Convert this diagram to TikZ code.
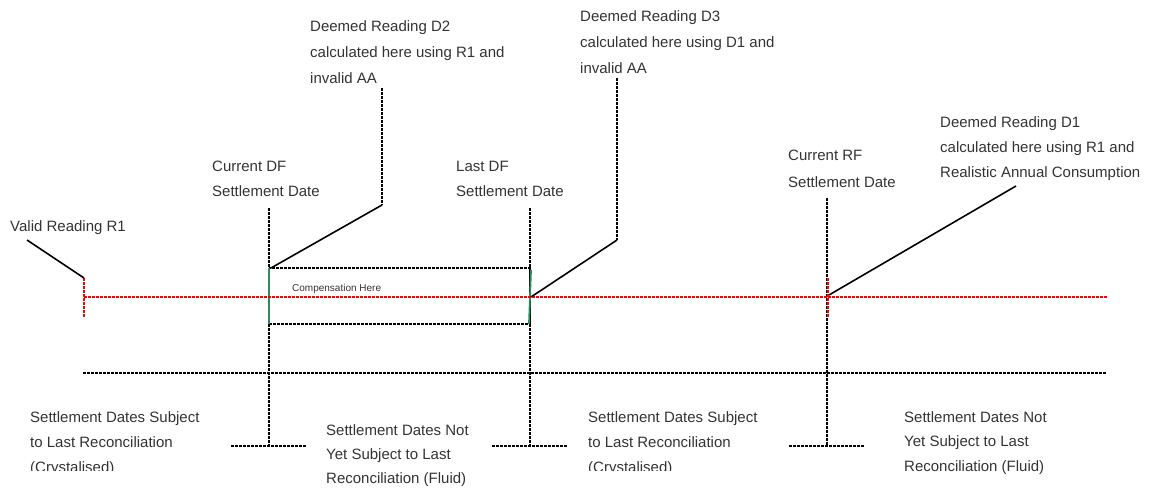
\documentclass[tikz,border=0pt]{standalone}
\usepackage{fontspec}
\setmainfont{Liberation Sans}
\definecolor{txt}{rgb}{0.2,0.2,0.2}
\definecolor{grn}{rgb}{0.18,0.55,0.36}
\tikzset{
  lbl/.style={anchor=north west, inner sep=0pt, align=left, text=txt, font=\fontsize{15}{#1}\selectfont},
  lbl/.default=25,
  dline/.style={line width=2pt, dash pattern=on 3pt off 1pt},
  rline/.style={dline, red},
  leader/.style={line width=1.6pt, black},
  gline/.style={line width=1.8pt, grn},
}
\begin{document}
\begin{tikzpicture}[x=1pt,y=-1pt]
\useasboundingbox (0,0) rectangle (1149,490);
% texts
\node[lbl] (r1t) at (10,220) {Valid Reading R1};
\node[lbl=26] (d2t) at (310,20) {Deemed Reading D2\\calculated here using R1 and\\invalid AA};
\node[lbl=25] (cdf) at (212,161) {Current DF\\Settlement Date};
\node[lbl=25] (ldf) at (456,161) {Last DF\\Settlement Date};
\node[lbl=26] (d3t) at (580,10) {Deemed Reading D3\\calculated here using D1 and\\invalid AA};
\node[lbl=27] (crf) at (788,150) {Current RF\\Settlement Date};
\node[lbl=25] (d1t) at (940,116) {Deemed Reading D1\\calculated here using R1 and\\Realistic Annual Consumption};
\begin{scope}
\clip (0,0) rectangle (1149,470);
\node[lbl=25] (s1) at (30,411) {Settlement Dates Subject\\to Last Reconciliation\\(Crystalised)};
\node[lbl=25] (s3) at (588,411) {Settlement Dates Subject\\to Last Reconciliation\\(Crystalised)};
\end{scope}
\node[lbl=24] (s2) at (326,424) {Settlement Dates Not\\Yet Subject to Last\\Reconciliation (Fluid)};
\node[lbl=24.5] (s4) at (904,411) {Settlement Dates Not\\Yet Subject to Last\\Reconciliation (Fluid)};
\node[anchor=base west, inner sep=0pt, text=txt, font=\fontsize{10}{12}\selectfont] (comp) at (292,291) {Compensation Here};

% coordinates
\coordinate (r1a) at (27,240);
\coordinate (r1b) at (84,278);
\coordinate (r1c) at (84,317);
\coordinate (r1m) at (84,297);
\coordinate (rend) at (1107,297);
\coordinate (dfT) at (269,208);
\coordinate (dfB) at (269,446);
\coordinate (dfL) at (231,446);
\coordinate (dfR) at (307,446);
\coordinate (d2a) at (382,88);
\coordinate (d2b) at (382,205);
\coordinate (d2c) at (271,268);
\coordinate (bx1) at (269,268);
\coordinate (bx2) at (530,324);
\coordinate (ldT) at (530,208);
\coordinate (ldB) at (530,446);
\coordinate (ldL) at (492,446);
\coordinate (ldR) at (568,446);
\coordinate (d3a) at (617,78);
\coordinate (d3b) at (617,240);
\coordinate (d3c) at (531,297);
\coordinate (rfT) at (827,198);
\coordinate (rfB) at (827,446);
\coordinate (rfL) at (789,446);
\coordinate (rfR) at (865,446);
\coordinate (rft1) at (828,278);
\coordinate (rft2) at (828,317);
\coordinate (d1a) at (1016,186);
\coordinate (d1b) at (829,295);
\coordinate (hl) at (83,373);
\coordinate (hr) at (1107,373);

% black dashed lines
\draw[dline] (dfT) -- (dfB);
\draw[dline] (dfL) -- (dfR);
\draw[dline] (ldT) -- (ldB);
\draw[dline] (ldL) -- (ldR);
\draw[dline] (rfT) -- (rfB);
\draw[dline] (rfL) -- (rfR);
\draw[dline] (d2a) -- (d2b);
\draw[dline] (d3a) -- (d3b);
\draw[dline] (hl) -- (hr);
\draw[dline] (bx1) rectangle (bx2);
% green edges
\draw[gline] (269,268) -- (269,324);
\draw[gline] (531,270) -- (529,324);
% red
\draw[rline] (r1m) -- (rend);
\draw[rline] (r1b) -- (r1c);
\draw[rline] (rft1) -- (rft2);
% leaders
\draw[leader] (r1a) -- (r1b);
\draw[leader] (d2b) -- (d2c);
\draw[leader] (d3b) -- (d3c);
\draw[leader] (d1a) -- (d1b);
\end{tikzpicture}
\end{document}
